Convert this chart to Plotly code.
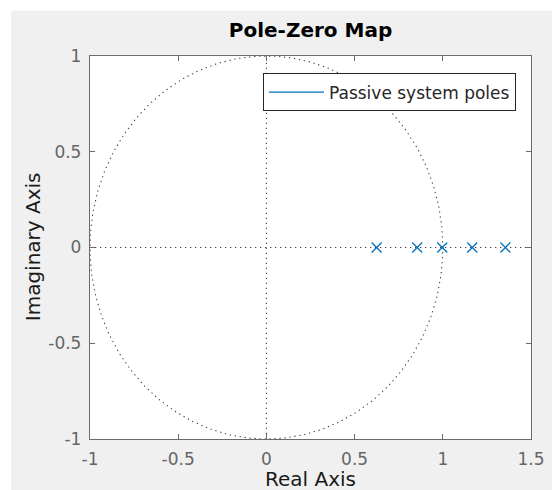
import numpy as np
import plotly.graph_objects as go

# Data
pole_real = [0.625, 0.855, 0.997, 1.167, 1.355]
pole_imag = [0, 0, 0, 0, 0]
legend_label = "Passive system poles"
x_ticks = [-1, -0.5, 0, 0.5, 1, 1.5]
x_tick_text = ["-1", "-0.5", "0", "0.5", "1", "1.5"]
y_ticks = [-1, -0.5, 0, 0.5, 1]
y_tick_text = ["-1", "-0.5", "0", "0.5", "1"]

W, H = 552, 490
L, R, T, B = 90, 21, 55.5, 51
pw, ph = W - L - R, H - T - B

blue = "#0072BD"
grid_col = "#444444"
dot = "1.3px,3.7px"

fig = go.Figure()

# unit circle (reference grid)
th = np.linspace(0, 2 * np.pi, 400)
fig.add_trace(go.Scatter(x=np.cos(th), y=np.sin(th), mode="lines",
                         line=dict(color=grid_col, width=1.1, dash=dot),
                         showlegend=False, hoverinfo="skip"))
fig.add_trace(go.Scatter(x=[-1, 1.5], y=[0, 0], mode="lines",
                         line=dict(color=grid_col, width=1.1, dash=dot),
                         showlegend=False, hoverinfo="skip"))
fig.add_trace(go.Scatter(x=[0, 0], y=[-1, 1], mode="lines",
                         line=dict(color=grid_col, width=1.1, dash=dot),
                         showlegend=False, hoverinfo="skip"))

# poles
fig.add_trace(go.Scatter(x=pole_real, y=pole_imag, mode="markers",
                         marker=dict(symbol="x-thin", size=10,
                                     line=dict(color=blue, width=1.3)),
                         showlegend=False))
# legend entry (line style like MATLAB)
fig.add_trace(go.Scatter(x=[None], y=[None], mode="lines", name=legend_label,
                         line=dict(color=blue, width=1.2)))

tickfont = dict(family="DejaVu Sans", size=17, color="#666666")
axis_common = dict(showgrid=False, zeroline=False, showline=True, linecolor="#6b6b6b",
                   linewidth=1.3, mirror="ticks", ticks="inside", ticklen=5,
                   tickcolor="#6b6b6b", tickfont=tickfont, automargin=False)

fig.update_layout(
    width=W, height=H,
    margin=dict(l=L, r=R, t=T, b=B, autoexpand=False),
    paper_bgcolor="#f0f0f0",
    plot_bgcolor="white",
    title=dict(text="<b>Pole-Zero Map</b>", x=(L + pw / 2) / W, xanchor="center",
               y=1 - 30 / H, yanchor="middle",
               font=dict(family="DejaVu Sans", size=20, color="#000000")),
    xaxis=dict(range=[-1, 1.5], tickvals=x_ticks, ticktext=x_tick_text,
               ticklabelstandoff=4, **axis_common),
    yaxis=dict(range=[-1, 1], tickvals=y_ticks, ticktext=y_tick_text,
               ticklabelstandoff=4, **axis_common),
    legend=dict(x=(516 - L) / pw, xanchor="right", y=(H - B - 73) / ph, yanchor="top",
                bgcolor="white", bordercolor="#262626", borderwidth=1,
                font=dict(family="DejaVu Sans", size=17, color="#262626"),
                itemwidth=55, tracegroupgap=0),
    showlegend=True,
    annotations=[
        dict(text="Real Axis", xref="paper", yref="paper",
             x=(310 - L) / pw, y=-(479 - (H - B)) / ph, xanchor="center", yanchor="middle",
             showarrow=False, font=dict(family="DejaVu Sans", size=20, color="#1a1a1a")),
        dict(text="Imaginary Axis", xref="paper", yref="paper", textangle=-90,
             x=-(L - 33) / pw, y=(H - B - 247) / ph, xanchor="center", yanchor="middle",
             showarrow=False, font=dict(family="DejaVu Sans", size=20, color="#1a1a1a")),
    ],
    shapes=[
        dict(type="rect", xref="paper", yref="paper",
             x0=-L / pw, x1=(W - L) / pw, y0=(H - B - 10) / ph, y1=(H - B) / ph + 0.01,
             fillcolor="white", line=dict(width=0), layer="above"),
        dict(type="rect", xref="paper", yref="paper",
             x0=-L / pw - 0.01, x1=(11 - L) / pw, y0=-B / ph - 0.01, y1=(H - B) / ph + 0.01,
             fillcolor="white", line=dict(width=0), layer="above"),
    ],
)

fig.write_html("out.html", config={"displayModeBar": False},
               post_script="document.body.style.margin='0px';document.body.style.overflow='hidden';")
